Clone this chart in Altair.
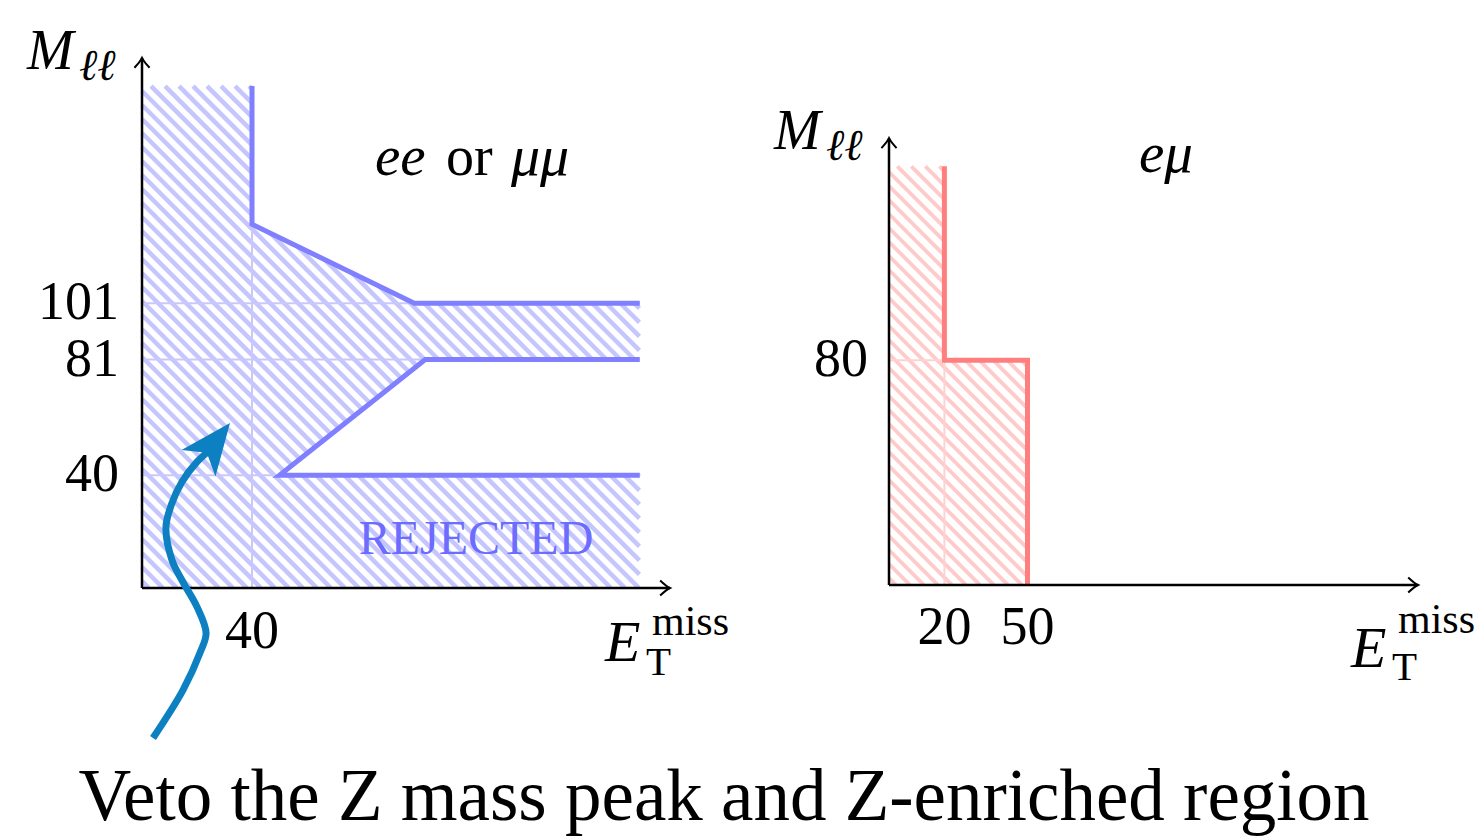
import numpy as np
import pandas as pd
import altair as alt

W, H = 1479, 837
SERIF = "Liberation Serif, DejaVu Serif, serif"

# ---------------- left panel: ee or mumu ----------------
ee_upper_met = [40, 40, 99, 181]
ee_upper_mll = [178, 129, 101, 101]
ee_lower_met = [181, 103, 50, 181]
ee_lower_mll = [81, 81, 40, 40]
ee_grid_mll = [101, 81, 40]
ee_grid_met = [40]
ee_yticks = [101, 81, 40]
ee_xticks = [40]
ee_met_max = 181
ee_mll_max = 178
ee_axis_x_end = 192
ee_axis_y_end = 188

# ---------------- right panel: e mu ----------------
em_met = [20, 20, 50, 50]
em_mll = [149, 80, 80, 0]
em_grid_mll = [80]
em_grid_met = [20]
em_yticks = [80]
em_xticks = [20, 50]
em_mll_max = 149
em_axis_x_end = 191
em_axis_y_end = 159

# ---------------- curved arrow (left-panel units) ----------------
arrow_met = [4.0, 14.9, 21.1, 23.3, 20.0, 14.9, 10.9, 8.7, 10.9, 14.5, 20.0, 25.5]
arrow_mll = [-53.2, -36.2, -23.0, -16.0, -6.7, 2.1, 9.9, 21.6, 30.1, 37.6, 44.7, 49.6]
arrow_tip_met = [32.0]
arrow_tip_mll = [58.5]

# layout: pixel origin and pixels per unit of each panel
L_OX, L_OY, L_KX, L_KY = 142, 588, 2.75, 2.82
R_OX, R_OY, R_KX, R_KY = 889, 585, 2.77, 2.81

BLUE_LINE = "#7f7fff"
BLUE_HATCH = "#c6c6ff"
BLUE_GRID = "#c8c8ff"
RED_LINE = "#ff7f7f"
RED_HATCH = "#ffcaca"
RED_GRID = "#ffd2d2"
ARROW = "#0d80c2"


def make_scales(ox, oy, kx, ky):
    xs = alt.Scale(domain=[-ox / kx, (W - ox) / kx], nice=False, zero=False)
    ys = alt.Scale(domain=[-(H - oy) / ky, oy / ky], nice=False, zero=False)
    return xs, ys


def hatch(inside, xmax, ymax, kx, ky, period=14.0, step=0.4):
    umax, vmax = xmax * kx, ymax * ky
    segs = []
    c = period / 2
    while c < umax + vmax:
        u = np.arange(max(0.0, c - vmax), min(c, umax) + 1e-9, step)
        v = c - u
        x, y = u / kx, v / ky
        ins = inside(x, y).astype(int)
        edges = np.flatnonzero(np.diff(np.concatenate([[0], ins, [0]])))
        for s, e in zip(edges[::2], edges[1::2]):
            if e - 1 > s:
                segs.append(dict(x=x[s], y=y[s], x2=x[e - 1], y2=y[e - 1]))
        c += period
    return pd.DataFrame(segs)


def ee_inside(x, y):
    lim = np.full_like(x, float(ee_met_max))
    up = y >= ee_upper_mll[-1]
    lim[up] = np.interp(y[up], ee_upper_mll[2::-1], ee_upper_met[2::-1])
    mid = (y > ee_lower_mll[-1]) & (y < ee_lower_mll[0])
    lim[mid] = np.interp(y[mid], ee_lower_mll[2:0:-1], ee_lower_met[2:0:-1])
    return (x >= 0) & (y >= 0) & (y <= ee_mll_max) & (x <= lim)


def em_inside(x, y):
    lim = np.where(y < em_mll[1], em_met[-1], em_met[0])
    return (x >= 0) & (y >= 0) & (y <= em_mll_max) & (x <= lim)


AXIS_HEAD = "M-1.3,-1 Q-0.45,-0.2 0,0 Q-0.45,0.2 -1.3,1"
STEALTH = "M0,0 L0.8,1.9 L0,1.4 L-0.8,1.9 Z"


def panel(xs, ys, hatch_df, hatch_color, hatch_w, grid_df, grid_color,
          lines_df, line_color, axis_x_end, axis_y_end, yt, xt, ydx, xdy):
    X = lambda f: alt.X(f, type="quantitative", scale=xs, axis=None)
    Y = lambda f: alt.Y(f, type="quantitative", scale=ys, axis=None)
    layers = []
    layers.append(alt.Chart(hatch_df).mark_rule(color=hatch_color, strokeWidth=hatch_w)
                  .encode(x=X("x"), y=Y("y"), x2="x2", y2="y2"))
    layers.append(alt.Chart(grid_df).mark_rule(color=grid_color, strokeWidth=2)
                  .encode(x=X("x"), y=Y("y"), x2="x2", y2="y2"))
    layers.append(alt.Chart(lines_df).mark_line(color=line_color, strokeWidth=5,
                                                 strokeJoin="miter", strokeCap="butt")
                  .encode(x=X("x"), y=Y("y"), detail="g:N", order="i:Q"))
    axes_df = pd.DataFrame({"x": [0, 0], "y": [0, 0], "x2": [axis_x_end, 0], "y2": [0, axis_y_end]})
    layers.append(alt.Chart(axes_df).mark_rule(color="black", strokeWidth=2.5)
                  .encode(x=X("x"), y=Y("y"), x2="x2", y2="y2"))
    layers.append(alt.Chart(pd.DataFrame({"x": [axis_x_end], "y": [0]}))
                  .mark_point(shape=AXIS_HEAD, size=230, filled=False, stroke="black",
                              strokeWidth=2, opacity=1)
                  .encode(x=X("x"), y=Y("y")))
    layers.append(alt.Chart(pd.DataFrame({"x": [0], "y": [axis_y_end]}))
                  .mark_point(shape=AXIS_HEAD, size=230, filled=False, stroke="black",
                              strokeWidth=2, opacity=1, angle=270)
                  .encode(x=X("x"), y=Y("y")))
    ydf = pd.DataFrame({"x": [0] * len(yt), "y": yt, "t": [str(v) for v in yt]})
    layers.append(alt.Chart(ydf).mark_text(font=SERIF, fontSize=54, align="right",
                                           baseline="middle", dx=ydx, color="black")
                  .encode(x=X("x"), y=Y("y"), text="t:N"))
    xdf = pd.DataFrame({"x": xt, "y": [0] * len(xt), "t": [str(v) for v in xt]})
    layers.append(alt.Chart(xdf).mark_text(font=SERIF, fontSize=54, align="center",
                                           baseline="middle", dy=xdy, color="black")
                  .encode(x=X("x"), y=Y("y"), text="t:N"))
    return layers


# ---- left panel data ----
lxs, lys = make_scales(L_OX, L_OY, L_KX, L_KY)
ee_hatch = hatch(ee_inside, ee_met_max, ee_mll_max, L_KX, L_KY)
ee_grid = pd.DataFrame(
    [dict(x=0, y=m, x2=ee_met_max, y2=m) for m in ee_grid_mll]
    + [dict(x=e, y=0, x2=e, y2=ee_mll_max) for e in ee_grid_met])
ee_lines = pd.concat([
    pd.DataFrame({"x": ee_upper_met, "y": ee_upper_mll, "g": "up", "i": range(4)}),
    pd.DataFrame({"x": ee_lower_met, "y": ee_lower_mll, "g": "low", "i": range(4)}),
])
left_layers = panel(lxs, lys, ee_hatch, BLUE_HATCH, 4.5, ee_grid, BLUE_GRID, ee_lines, BLUE_LINE,
                    ee_axis_x_end, ee_axis_y_end, ee_yticks, ee_xticks, -23, 44)

XL = lambda f: alt.X(f, type="quantitative", scale=lxs, axis=None)
YL = lambda f: alt.Y(f, type="quantitative", scale=lys, axis=None)
arrow_df = pd.DataFrame({"x": arrow_met, "y": arrow_mll, "i": range(len(arrow_met))})
left_layers.append(alt.Chart(arrow_df).mark_line(color=ARROW, strokeWidth=7,
                                                  interpolate="catmull-rom", strokeCap="butt")
                   .encode(x=XL("x"), y=YL("y"), order="i:Q"))
left_layers.append(alt.Chart(pd.DataFrame({"x": arrow_tip_met, "y": arrow_tip_mll}))
                   .mark_point(shape=STEALTH, size=2900, filled=True, color=ARROW,
                               opacity=1, angle=38)
                   .encode(x=XL("x"), y=YL("y")))
left = alt.layer(*left_layers)

# ---- right panel data ----
rxs, rys = make_scales(R_OX, R_OY, R_KX, R_KY)
em_hatch = hatch(em_inside, max(em_met), em_mll_max, R_KX, R_KY)
em_grid = pd.DataFrame(
    [dict(x=0, y=m, x2=em_met[0], y2=m) for m in em_grid_mll]
    + [dict(x=e, y=0, x2=e, y2=em_mll[1]) for e in em_grid_met])
em_lines = pd.DataFrame({"x": em_met, "y": em_mll, "g": "em", "i": range(4)})
right = alt.layer(*panel(rxs, rys, em_hatch, RED_HATCH, 3.8, em_grid, RED_GRID, em_lines, RED_LINE,
                         em_axis_x_end, em_axis_y_end, em_yticks, em_xticks, -21, 43))


# ---- annotations ----
def text(t, x, y, size, italic=False, align="left", baseline="alphabetic", color="black", font=SERIF):
    kw = dict(font=font, fontSize=size, align=align, baseline=baseline, color=color)
    if italic:
        kw["fontStyle"] = "italic"
    return alt.Chart(pd.DataFrame({"t": [t]})).mark_text(**kw).encode(
        x=alt.value(x), y=alt.value(y), text="t:N")


ann = [
    # axis titles, left
    text("M", 27, 69, 56, italic=True),
    text("\u2113\u2113", 79, 80, 44, italic=True),
    text("E", 605, 661, 58, italic=True),
    text("T", 646, 675, 41),
    text("miss", 652, 635, 42),
    # axis titles, right
    text("M", 774, 149, 56, italic=True),
    text("\u2113\u2113", 826, 160, 44, italic=True),
    text("E", 1351, 667, 58, italic=True),
    text("T", 1392, 680, 41),
    text("miss", 1398, 633, 42),
    # channel labels
    text("ee", 375, 175, 57, italic=True),
    text("or", 446, 175, 56),
    text("\u03bc\u03bc", 511, 175, 58, italic=True),
    text("e\u03bc", 1139, 172, 57, italic=True),
    text("REJECTED", 476, 540, 48, align="center", baseline="middle", color="#6c6cff"),
    # caption
    text("Veto the Z mass peak and Z-enriched region", 724, 820, 73, align="center"),
]

chart = (
    alt.layer(left, right, *ann)
    .resolve_scale(x="independent", y="independent")
    .properties(width=W, height=H, padding=0, autosize=alt.AutoSizeParams(type="none"),
                background="white")
    .configure_view(stroke=None)
)

chart.save("out.html", embed_options={"renderer": "svg", "actions": False})
